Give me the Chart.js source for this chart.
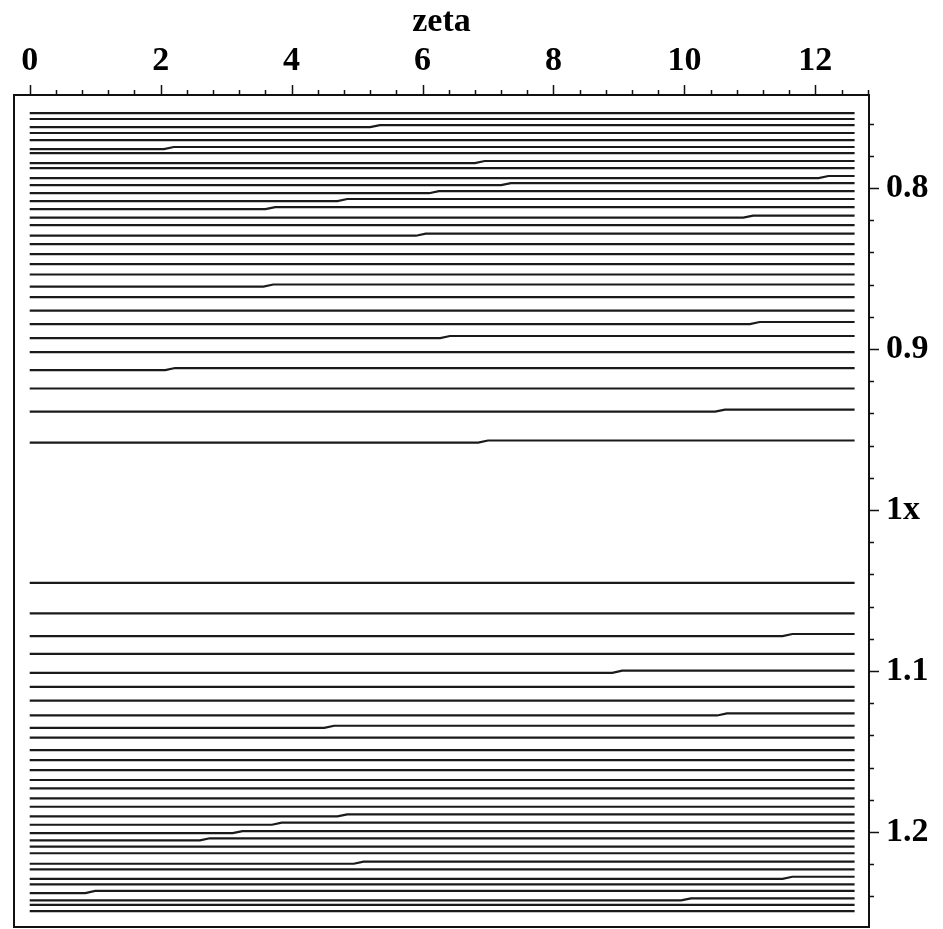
<!DOCTYPE html>
<html lang="en">

<head>
  <meta charset="UTF-8">
  <title>zeta</title>
  <script src="https://cdn.jsdelivr.net/npm/chart.js"></script>
  <style>
    html, body { margin: 0; padding: 0; background: #fff; }
    #caixa { width: 943px; height: 929px; }
  </style>
</head>

<body>

  <div id="caixa">
    <canvas id="grafico"></canvas>
  </div>

<script>

  // contour levels read at the right end of each line (x axis of the plot is zeta)
  const niveisCima = [0.7534, 0.7571, 0.7609, 0.7658, 0.7702, 0.7745, 0.7783, 0.7832, 0.7876, 0.7925,
    0.7969, 0.8019, 0.8068, 0.8118, 0.8171, 0.8230, 0.8283, 0.8348, 0.8410, 0.8472,
    0.8537, 0.8599, 0.8677, 0.8761, 0.8832, 0.8919, 0.9019, 0.9118, 0.9245, 0.9376, 0.9568];

  const niveisBaixo = [1.0452, 1.0642, 1.0770, 1.0894, 1.0998, 1.1098, 1.1184, 1.1263, 1.1340, 1.1414,
    1.1491, 1.1553, 1.1615, 1.1677, 1.1729, 1.1791, 1.1843, 1.1890, 1.1942, 1.1994,
    1.2039, 1.2091, 1.2132, 1.2184, 1.2232, 1.2278, 1.2325, 1.2366, 1.2412, 1.2453, 1.2491];

  // small steps in some lines: index of the line (top group first) and zeta where it steps
  const degrauLinha = [2, 5, 7, 9, 10, 11, 12, 13, 14, 16, 21, 24, 25, 27, 29, 30,
    33, 35, 38, 39, 48, 49, 50, 51, 54, 56, 58, 59];
  const degrauZeta = [5.2, 2.05, 6.8, 12.05, 7.2, 6.1, 4.7, 3.6, 10.9, 5.9, 3.57, 11.0, 6.27, 2.07, 10.47, 6.85,
    11.5, 8.9, 10.5, 4.5, 4.7, 3.7, 3.1, 2.6, 4.95, 11.5, 0.85, 9.95];
  const degrauAltura = 0.0013;

  const zetaInicio = 0;
  const zetaFim = 12.6;

  const xMaiores = [0, 2, 4, 6, 8, 10, 12];
  const xMenorPasso = 0.4;
  const yMaiores = [0.8, 0.9, 1, 1.1, 1.2];
  const yRotulos = ['0.8', '0.9', '1x', '1.1', '1.2'];
  const yMenorPasso = 0.02;

  const niveis = niveisCima.concat(niveisBaixo);

  const conjuntos = niveis.map((v, i) => {
    const k = degrauLinha.indexOf(i);
    let pontos;
    if (k >= 0) {
      const s = degrauZeta[k];
      pontos = [
        { x: zetaInicio, y: v + degrauAltura },
        { x: s, y: v + degrauAltura },
        { x: Math.min(s + 0.15, zetaFim), y: v },
        { x: zetaFim, y: v }
      ];
    } else {
      pontos = [{ x: zetaInicio, y: v }, { x: zetaFim, y: v }];
    }
    return {
      data: pontos,
      borderColor: '#1a1a1a',
      borderWidth: 2.2,
      pointRadius: 0,
      tension: 0
    };
  });

  const fonteEixo = { family: 'Liberation Serif', size: 34, weight: 'bold' };

  // frame and tick marks, drawn from the scales
  const moldura = {
    id: 'moldura',
    afterDraw(chart) {
      const c = chart.ctx;
      const a = chart.chartArea;
      const sx = chart.scales.x;
      const sy = chart.scales.y;
      c.save();
      c.strokeStyle = '#111';
      c.lineWidth = 2;
      c.strokeRect(a.left, a.top, a.right - a.left, a.bottom - a.top);

      c.lineWidth = 1.5;
      c.beginPath();
      for (let i = 0; i * xMenorPasso <= sx.max + 1e-9; i++) {
        const v = +(i * xMenorPasso).toFixed(4);
        const px = Math.round(sx.getPixelForValue(v)) + 0.5;
        const comp = xMaiores.includes(v) ? 10 : 5;
        c.moveTo(px, a.top);
        c.lineTo(px, a.top - comp);
      }
      const yIni = Math.ceil(sy.min / yMenorPasso);
      const yFim = Math.floor(sy.max / yMenorPasso);
      for (let i = yIni; i <= yFim; i++) {
        const v = +(i * yMenorPasso).toFixed(4);
        const py = Math.round(sy.getPixelForValue(v)) + 0.5;
        const comp = yMaiores.includes(v) ? 10 : 5;
        c.moveTo(a.right, py);
        c.lineTo(a.right + comp, py);
      }
      c.stroke();
      c.restore();
    }
  };

  new Chart(document.getElementById('grafico'), {
    type: 'line',
    data: { datasets: conjuntos },
    options: {
      responsive: true,
      maintainAspectRatio: false,
      animation: false,
      devicePixelRatio: 1,
      layout: { padding: { left: 14, top: 0, right: 0, bottom: 2 } },
      plugins: {
        legend: { display: false },
        tooltip: { enabled: false }
      },
      scales: {
        x: {
          type: 'linear',
          position: 'top',
          min: -0.24,
          max: 12.82,
          grid: { display: false, drawTicks: false },
          border: { display: false },
          afterBuildTicks: (s) => { s.ticks = xMaiores.map(v => ({ value: v })); },
          afterFit: (s) => {
            s.height = 95;
            s.paddingLeft = 0;
            s.paddingRight = 0;
          },
          ticks: {
            color: '#000',
            font: fonteEixo,
            padding: 13,
            maxRotation: 0,
            callback: (v) => String(v)
          },
          title: {
            display: true,
            text: 'zeta',
            color: '#000',
            font: fonteEixo,
            padding: { top: 2, bottom: 0 }
          }
        },
        y: {
          type: 'linear',
          position: 'right',
          reverse: true,
          min: 0.7422,
          max: 1.259,
          grid: { display: false, drawTicks: false },
          border: { display: false },
          afterBuildTicks: (s) => { s.ticks = yMaiores.map(v => ({ value: v })); },
          afterFit: (s) => {
            s.width = 74;
            s.paddingTop = 0;
            s.paddingBottom = 0;
          },
          ticks: {
            color: '#000',
            font: fonteEixo,
            padding: 17,
            callback: (v) => yRotulos[yMaiores.indexOf(v)] ?? ''
          }
        }
      }
    },
    plugins: [moldura]
  });

</script>

</body>

</html>
